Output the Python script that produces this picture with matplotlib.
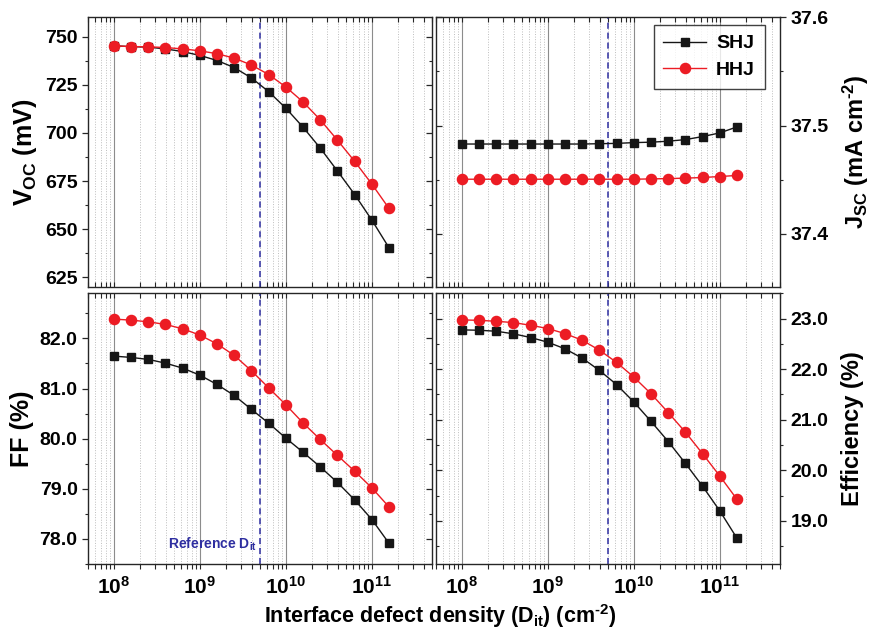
import numpy as np
import matplotlib
matplotlib.use('Agg')
import matplotlib.pyplot as plt
from matplotlib.ticker import MultipleLocator, LogLocator, NullFormatter, FixedLocator, FixedFormatter

plt.rcParams['font.family'] = ['Liberation Sans', 'DejaVu Sans']
plt.rcParams['font.weight'] = 'bold'
plt.rcParams['axes.labelweight'] = 'bold'
plt.rcParams['mathtext.fontset'] = 'custom'
plt.rcParams['mathtext.rm'] = 'Liberation Sans:bold'
plt.rcParams['mathtext.it'] = 'Liberation Sans:bold'
plt.rcParams['mathtext.bf'] = 'Liberation Sans:bold'

# interface defect density (cm^-2)
dit = [1e8, 1.58e8, 2.51e8, 3.98e8, 6.31e8,
       1e9, 1.58e9, 2.51e9, 3.98e9, 6.31e9,
       1e10, 1.58e10, 2.51e10, 3.98e10, 6.31e10,
       1e11, 1.58e11]
dit_ref = 5e9

voc_shj = [745.2, 744.8, 744.5, 743.6, 742.2, 740.2, 737.6, 733.9, 728.5,
           721.4, 712.8, 703.0, 692.1, 680.2, 668.0, 654.7, 640.4]
voc_hhj = [745.2, 744.8, 744.7, 744.3, 743.6, 742.6, 741.1, 738.8, 735.2,
           730.3, 723.8, 716.1, 706.8, 696.2, 685.2, 673.4, 660.8]

jsc_shj = [37.4830, 37.4830, 37.4830, 37.4830, 37.4830, 37.4830, 37.4830,
           37.4830, 37.4833, 37.4836, 37.4843, 37.4847, 37.4856, 37.4871,
           37.4899, 37.4933, 37.4988]
jsc_hhj = [37.4505, 37.4505, 37.4505, 37.4505, 37.4505, 37.4505, 37.4505,
           37.4505, 37.4505, 37.4505, 37.4505, 37.4508, 37.4511, 37.4515,
           37.4521, 37.4530, 37.4540]

ff_shj = [81.647, 81.621, 81.581, 81.507, 81.407, 81.267, 81.082, 80.862,
          80.583, 80.309, 80.010, 79.731, 79.437, 79.126, 78.778, 78.387,
          77.914]
ff_hhj = [82.385, 82.365, 82.331, 82.279, 82.192, 82.066, 81.892, 81.661,
          81.353, 81.014, 80.675, 80.315, 79.984, 79.665, 79.351, 79.018,
          78.639]

eff_shj = [22.777, 22.770, 22.750, 22.699, 22.626, 22.533, 22.403, 22.218,
           21.975, 21.694, 21.351, 20.970, 20.570, 20.137, 19.684, 19.197,
           18.659]
eff_hhj = [22.974, 22.966, 22.947, 22.921, 22.868, 22.803, 22.704, 22.572,
           22.375, 22.133, 21.843, 21.516, 21.142, 20.754, 20.326, 19.887,
           19.428]

W, H = 870.0, 633.0
fig = plt.figure(figsize=(W / 100, H / 100), dpi=100)


def box(x0, y0, x1, y1):
    return [x0 / W, 1 - y1 / H, (x1 - x0) / W, (y1 - y0) / H]


ax_voc = fig.add_axes(box(88, 17.3, 432, 287))
ax_jsc = fig.add_axes(box(436, 17.3, 780, 287))
ax_ff = fig.add_axes(box(88, 293.3, 432, 564))
ax_eff = fig.add_axes(box(436, 293.3, 780, 564))

spine_col = '#262626'
black = '#161616'
red = '#ec1c24'
blue = '#2e2ea0'
HY = '\u2010'  # plain hyphen for the cm-2 exponent


def style(ax, ylim, major, minor, fmt, side, bottom_row):
    ax.set_xscale('log')
    ax.set_xlim(5e7, 5e11)
    ax.set_ylim(*ylim)
    for s in ax.spines.values():
        s.set_color(spine_col)
        s.set_linewidth(1.0)
    # vertical grid only
    ax.xaxis.set_major_locator(LogLocator(base=10, numticks=10))
    ax.xaxis.set_minor_locator(LogLocator(base=10, subs=np.arange(2, 10), numticks=20))
    ax.xaxis.set_minor_formatter(NullFormatter())
    ax.grid(True, axis='x', which='major', color='#8c8c8c', lw=0.8, ls='-')
    ax.grid(True, axis='x', which='minor', color='#bdbdbd', lw=0.7, ls=':')
    ax.set_axisbelow(True)

    ax.yaxis.set_major_locator(MultipleLocator(major))
    ax.yaxis.set_minor_locator(MultipleLocator(minor))
    ax.yaxis.set_major_formatter(plt.FuncFormatter(lambda v, p: fmt.format(v)))

    # labelled y side: ticks outward; opposite side: ticks inward
    if side == 'left':
        ax.tick_params(axis='y', which='both', left=True, right=False,
                       labelleft=True, labelright=False, direction='out',
                       color=spine_col, labelsize=14, pad=3)
    else:
        ax.tick_params(axis='y', which='both', left=False, right=True,
                       labelleft=False, labelright=True, direction='out',
                       color=spine_col, labelsize=14, pad=3)
    ax.tick_params(axis='y', which='major', length=4.5, width=0.9)
    ax.tick_params(axis='y', which='minor', length=2.5, width=0.8)
    other = 'right' if side == 'left' else 'left'
    sec = ax.secondary_yaxis(other)
    sec.yaxis.set_major_locator(MultipleLocator(major))
    sec.yaxis.set_minor_locator(MultipleLocator(minor))
    sec.tick_params(axis='y', which='both', direction='in', color=spine_col,
                    labelleft=False, labelright=False)
    sec.tick_params(axis='y', which='major', length=4.5, width=0.9)
    sec.tick_params(axis='y', which='minor', length=2.5, width=0.8)
    sec.spines[other].set_visible(False)

    # x ticks: bottom row outward with labels, everything else inward
    ax.tick_params(axis='x', which='both', top=True, bottom=True,
                   direction='in', color=spine_col, labelbottom=False,
                   length=3.5, width=0.8)
    if bottom_row:
        ax.tick_params(axis='x', which='both', bottom=False)
        secx = ax.secondary_xaxis('bottom')
        secx.xaxis.set_major_locator(FixedLocator([1e8, 1e9, 1e10, 1e11]))
        secx.xaxis.set_major_formatter(FixedFormatter(
            [r'$10^{8}$', r'$10^{9}$', r'$10^{10}$', r'$10^{11}$']))
        secx.xaxis.set_minor_locator(LogLocator(base=10, subs=np.arange(2, 10), numticks=20))
        secx.xaxis.set_minor_formatter(NullFormatter())
        secx.tick_params(axis='x', which='both', direction='out',
                         color=spine_col, length=3.5, width=0.8,
                         labelsize=15, pad=5)
        secx.spines['bottom'].set_visible(False)

    ax.axvline(dit_ref, color=blue, lw=1.1, ls=(0, (4, 2.5)), zorder=1.5)


def curves(ax, shj, hhj):
    ax.plot(dit, shj, color=black, lw=1.0, marker='s', ms=6.3,
            mfc=black, mec=black, label='SHJ', zorder=3)
    ax.plot(dit, hhj, color=red, lw=1.0, marker='o', ms=7.3,
            mfc=red, mec=red, label='HHJ', zorder=3)


curves(ax_voc, voc_shj, voc_hhj)
curves(ax_jsc, jsc_shj, jsc_hhj)
curves(ax_ff, ff_shj, ff_hhj)
curves(ax_eff, eff_shj, eff_hhj)

style(ax_voc, (620, 760), 25, 12.5, '{:.0f}', 'left', False)
style(ax_jsc, (37.351, 37.6), 0.1, 0.05, '{:.1f}', 'right', False)
style(ax_ff, (77.5, 82.9), 1.0, 0.5, '{:.1f}', 'left', True)
style(ax_eff, (18.15, 23.5), 1.0, 0.5, '{:.1f}', 'right', True)

ax_voc.set_ylabel(r'V$_{\mathregular{OC}}$ (mV)', fontsize=18, labelpad=4)
ax_ff.set_ylabel('FF (%)', fontsize=18, labelpad=4)
ax_jsc.yaxis.set_label_position('right')
ax_jsc.set_ylabel(r'J$_{\mathregular{SC}}$ (mA cm$^{\mathregular{' + HY + '2}}$)',
                  fontsize=17, labelpad=9)
ax_eff.yaxis.set_label_position('right')
ax_eff.set_ylabel('Efficiency (%)', fontsize=17, labelpad=9)

ax_ff.text(4.6e9, 77.9, r'Reference D$_{\mathregular{it}}$', color=blue,
           fontsize=10, ha='right', va='center')

fig.text(440 / W, 1 - 616 / H,
         r'Interface defect density (D$_{\mathregular{it}}$) (cm$^{\mathregular{' + HY + '2}}$)',
         ha='center', va='center', fontsize=15.5)

leg = ax_jsc.legend(loc='upper right', bbox_to_anchor=(0.955, 0.971),
                    borderaxespad=0, frameon=True, fancybox=False,
                    handlelength=2.2, handletextpad=0.5, borderpad=0.5,
                    labelspacing=0.45, prop={'weight': 'bold', 'size': 14})
leg.get_frame().set_edgecolor('#111111')
leg.get_frame().set_linewidth(1.0)

fig.savefig('out.png', dpi=100)
